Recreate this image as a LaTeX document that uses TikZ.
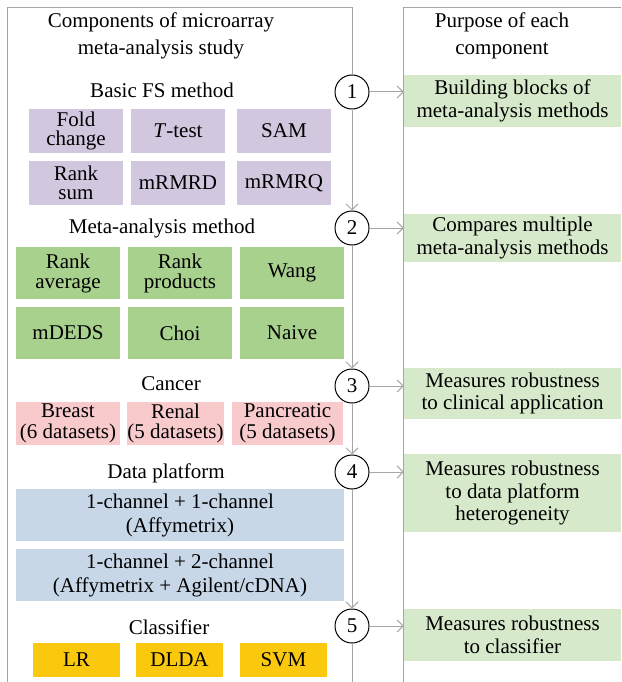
\documentclass[tikz,border=0pt]{standalone}
\usepackage{fontspec}
\setmainfont{Liberation Serif}
\usetikzlibrary{arrows.meta}

\definecolor{linegray}{RGB}{166,166,166}
\definecolor{fsviolet}{RGB}{209,200,224}
\definecolor{metagreen}{RGB}{169,209,142}
\definecolor{purposegreen}{RGB}{214,233,203}
\definecolor{cancerpink}{RGB}{248,202,204}
\definecolor{platblue}{RGB}{200,215,231}
\definecolor{clsyellow}{RGB}{250,201,14}

\def\stepfont{\fontsize{21}{27}\selectfont}

\tikzset{
	panel/.style={draw=linegray, line width=1pt},
	conn/.style={draw=linegray, line width=1pt, -{Straight Barb[length=6pt,width=12pt]}},
	stepnum/.style={circle, draw, line width=1pt, fill=white, minimum size=34pt, inner sep=0pt, font=\stepfont},
	heading/.style={align=center, font=\stepfont},
	compbox/.style={inner sep=0pt, align=center},
	fsbox/.style={compbox, fill=fsviolet, minimum width=94pt, minimum height=44pt, font=\fontsize{21}{19.5}\selectfont},
	metabox/.style={compbox, fill=metagreen, minimum width=104pt, minimum height=52pt, font=\fontsize{21}{20}\selectfont},
	cancerbox/.style={compbox, fill=cancerpink, minimum height=43pt, font=\fontsize{21}{20.5}\selectfont},
	platbox/.style={compbox, fill=platblue, minimum width=328pt, minimum height=52pt, font=\fontsize{21}{24}\selectfont},
	clsbox/.style={compbox, fill=clsyellow, minimum width=87pt, minimum height=34pt, font=\fontsize{21}{21}\selectfont},
	purposebox/.style={compbox, fill=purposegreen, minimum width=217pt, font=\fontsize{21}{22.5}\selectfont}
}

\begin{document}
\begin{tikzpicture}[x=1pt, y=-1pt]
		\useasboundingbox (0,0) rectangle (621,682);
		
		% titles
		\node[heading] (comptitle) at (161,36) {Components of microarray\\meta-analysis study};
		\node[heading] (purptitle) at (502,36) {Purpose of each\\component};
		
		% steps
		\node[stepnum] (c1) at (352,92) {1};
		\node[stepnum] (c2) at (352,228) {2};
		\node[stepnum] (c3) at (352,386) {3};
		\node[stepnum] (c4) at (352,472) {4};
		\node[stepnum] (c5) at (352,626) {5};
		
		% basic FS method
		\node[heading] (fshead) at (162,90) {Basic FS method};
		\node[fsbox] (fold) at (76,131) {Fold\\change};
		\node[fsbox] (ttest) at (178,131) {\textit{T}-test};
		\node[fsbox] (sam) at (284,131) {SAM};
		\node[fsbox] (ranksum) at (76,183) {Rank\\sum};
		\node[fsbox] (mrmrd) at (178,183) {mRMRD};
		\node[fsbox] (mrmrq) at (284,183) {mRMRQ};
		
		% meta-analysis method
		\node[heading] (metahead) at (162,228) {Meta-analysis method};
		\node[metabox] (rankavg) at (68,273) {Rank\\average};
		\node[metabox] (rankprod) at (180,273) {Rank\\products};
		\node[metabox] (wang) at (292,273) {Wang};
		\node[metabox] (mdeds) at (68,333) {mDEDS};
		\node[metabox] (choi) at (180,333) {Choi};
		\node[metabox] (naive) at (292,333) {Naive};
		
		% cancer
		\node[heading] (canhead) at (171,384) {Cancer};
		\node[cancerbox, minimum width=104pt] (breast) at (68,423.5) {Breast\\(6 datasets)};
		\node[cancerbox, minimum width=95pt] (renal) at (175.5,423.5) {Renal\\(5 datasets)};
		\node[cancerbox, minimum width=111pt] (pancreatic) at (287.5,423.5) {Pancreatic\\(5 datasets)};
		
		% data platform
		\node[heading] (plathead) at (166,473) {Data platform};
		\node[platbox] (oneone) at (180,515) {1-channel + 1-channel\\(Affymetrix)};
		\node[platbox] (onetwo) at (180,575) {1-channel + 2-channel\\(Affymetrix + Agilent/cDNA)};
		
		% classifier
		\node[heading] (clshead) at (169,627) {Classifier};
		\node[clsbox] (lr) at (76.5,660) {LR};
		\node[clsbox] (dlda) at (179.5,660) {DLDA};
		\node[clsbox] (svm) at (283.5,660) {SVM};
		
		% purposes
		\node[purposebox, minimum height=51pt] (p1) at (512.5,101) {Building blocks of\\meta-analysis methods};
		\node[purposebox, minimum height=48pt] (p2) at (512.5,238) {Compares multiple\\meta-analysis methods};
		\node[purposebox, minimum height=51pt] (p3) at (512.5,393.5) {Measures robustness\\to clinical application};
		\node[purposebox, minimum height=78pt] (p4) at (512.5,493) {Measures robustness\\to data platform\\heterogeneity};
		\node[purposebox, minimum height=52pt] (p5) at (512.5,635) {Measures robustness\\to classifier};
		
		% frames
		\coordinate (lefttop) at (7,8);
		\coordinate (leftbot) at (7,682);
		\coordinate (righttop) at (352,8);
		\coordinate (spinebot) at (352,682);
		\coordinate (purptop) at (403,8);
		\coordinate (purpbot) at (403,682);
		\coordinate (purpend) at (621,8);
		\draw[panel] (leftbot) -- (lefttop) -- (righttop) -- (c1.north);
		\draw[panel] (purpbot) -- (purptop) -- (purpend);
		\draw[panel] (c5.south) -- (spinebot);
		
		% spine
		\draw[conn] (c1) -- (c2);
		\draw[conn] (c2) -- (c3);
		\draw[conn] (c3) -- (c4);
		\draw[conn] (c4) -- (c5);
		
		% to purposes
		\draw[conn] (c1.east) -- (c1.east -| p1.west);
		\draw[conn] (c2.east) -- (c2.east -| p2.west);
		\draw[conn] (c3.east) -- (c3.east -| p3.west);
		\draw[conn] (c4.east) -- (c4.east -| p4.west);
		\draw[conn] (c5.east) -- (c5.east -| p5.west);
\end{tikzpicture}
\end{document}
